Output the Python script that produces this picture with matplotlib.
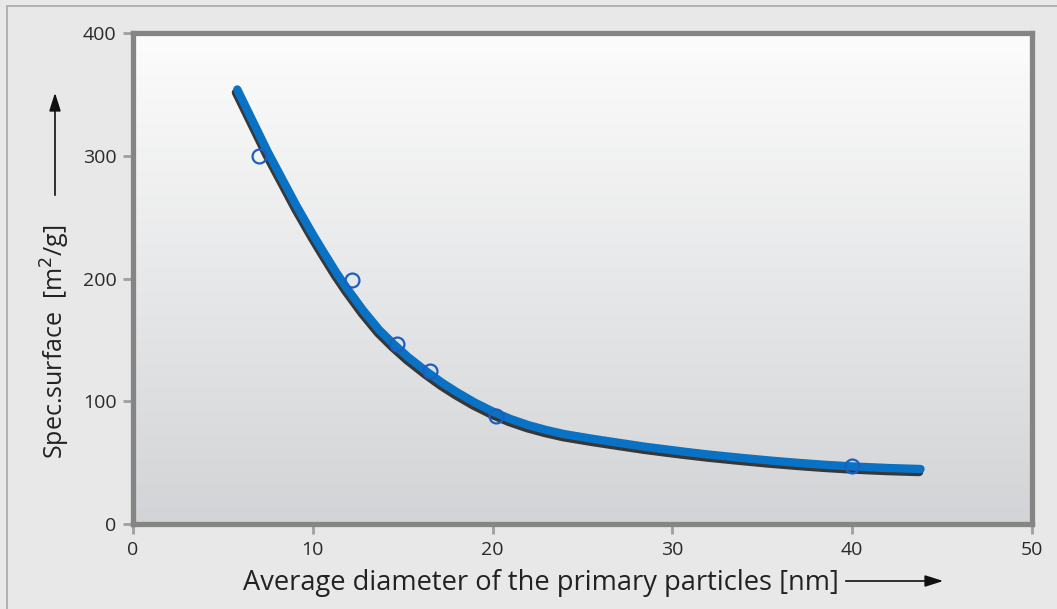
import matplotlib
matplotlib.use("Agg")
import matplotlib.pyplot as plt
import matplotlib.patheffects as pe
from matplotlib.patches import Rectangle
import numpy as np

# measured particles
diam_pts = [7.0, 12.2, 14.7, 16.5, 20.2, 40.0]
surf_pts = [300, 199, 147, 125, 88, 47]

# fitted curve
diam_fit = [5.8, 6.5, 7.5, 8.3, 9.1, 10.0, 10.6, 11.3, 11.9, 12.8, 13.7,
            14.5, 15.3, 16.3, 17.2, 18.0, 19.0, 20.1, 21.0, 22.0, 23.0,
            24.0, 25.6, 27.0, 28.5, 30.6, 32.0, 33.9, 35.5, 37.0, 38.5,
            40.0, 42.0, 43.8]
surf_fit = [354, 333, 303, 281, 259, 236, 221.5, 205, 192, 174, 158,
            146.5, 136, 124.5, 115, 107.5, 99, 91, 85.5, 80.5, 76.5,
            73.2, 69.3, 66.2, 62.9, 59, 56.6, 53.8, 51.6, 49.8, 48.2,
            46.9, 45.6, 44.8]

xticks = [0, 10, 20, 30, 40, 50]
yticks = [0, 100, 200, 300, 400]

plt.rcParams["font.family"] = ["Open Sans", "DejaVu Sans"]

W, H = 1057, 609
fig = plt.figure(figsize=(W / 100, H / 100), dpi=100, facecolor="#e8e8e8")

# thin frame around the whole graphic
fig.patches.append(Rectangle((7 / W, -0.01), 1.0, 1 - 6 / H + 0.01,
                             transform=fig.transFigure, fill=False,
                             edgecolor="#a8a8a8", lw=1.2))

ax = fig.add_axes([133 / W, 1 - 524 / H, (1032 - 133) / W, (524 - 33) / H])
ax.set_xlim(0, 50)
ax.set_ylim(0, 400)

# vertical gradient background
grad = np.linspace(0, 1, 256).reshape(-1, 1)
top = np.array([0.99, 0.99, 0.99])
bot = np.array([0.825, 0.83, 0.84])
img = top + (bot - top) * grad[..., None]
ax.imshow(img, extent=[0, 1, 0, 1], transform=ax.transAxes,
          aspect="auto", zorder=0, origin="upper")

ax.plot(diam_fit, surf_fit, color="#0a72c4", lw=6, solid_capstyle="round",
        solid_joinstyle="round", zorder=3,
        path_effects=[pe.SimpleLineShadow(offset=(-1.0, -2.2),
                                          shadow_color="#2e2e2e", alpha=0.95),
                      pe.Normal()])
ax.plot(diam_pts, surf_pts, ls="none", marker="o", ms=10, mfc="none",
        mec="#1d5fbf", mew=1.6, zorder=4)

for s in ax.spines.values():
    s.set_color("#858585")
    s.set_linewidth(3.8)

ax.set_xticks(xticks)
ax.set_yticks(yticks)
ax.tick_params(direction="out", length=7, width=2, color="#a0a0a0",
               labelsize=14, labelcolor="#2a2a2a", pad=5)

# axis titles with arrows
fig.text(243 / W, 1 - 583 / H, "Average diameter of the primary particles [nm]",
         fontsize=19.6, color="#222222", ha="left", va="center")
fig.text(55 / W, 1 - 342 / H, "Spec.surface  [m$^2$/g]", fontsize=18,
         color="#222222", rotation=90, ha="center", va="center")

arrow = dict(arrowstyle="-|>,head_length=1.1,head_width=0.35", color="#111111", lw=1.2)
ax.annotate("", xy=(946 / W, 1 - 581 / H), xytext=(843 / W, 1 - 581 / H),
            xycoords="figure fraction", textcoords="figure fraction",
            arrowprops=arrow, annotation_clip=False)
ax.annotate("", xy=(55 / W, 1 - 90 / H), xytext=(55 / W, 1 - 198 / H),
            xycoords="figure fraction", textcoords="figure fraction",
            arrowprops=arrow, annotation_clip=False)

fig.savefig("out.png", dpi=100, facecolor=fig.get_facecolor())
